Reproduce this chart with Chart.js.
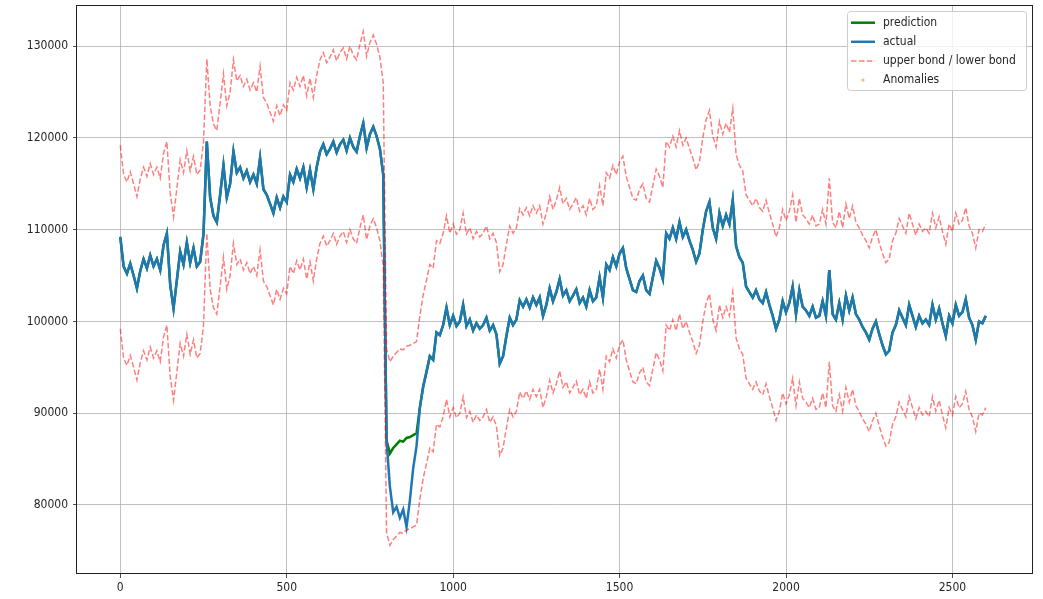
<!DOCTYPE html>
<html>
<head>
<meta charset="utf-8">
<script src="https://cdn.jsdelivr.net/npm/chart.js@4.4.1/dist/chart.umd.min.js"></script>
<style>
  html, body { margin: 0; padding: 0; background: #ffffff; }
  #wrap { width: 1043px; height: 599px; position: relative; }
</style>
</head>
<body>
<div id="wrap"><canvas id="chart" width="1043" height="599"></canvas></div>
<script>
// Every 10th observation of the series; values are in thousands.
const STEP = 10;
const UNIT = 1000;

const actual = [
  109.2,106.0,105.2,106.3,105.0,103.6,105.5,106.8,105.8,107.2,
  106.0,106.8,105.6,108.3,109.6,104.0,101.4,104.5,107.6,106.2,
  108.6,106.4,108.0,106.0,106.5,109.5,119.6,113.5,111.5,110.8,
  113.8,117.0,113.5,115.0,118.5,116.2,116.8,115.6,116.4,115.2,
  116.0,115.0,117.8,114.4,113.8,112.8,111.8,113.5,112.4,113.6,
  113.0,116.0,115.2,116.6,115.6,116.8,114.6,116.5,114.4,116.8,
  118.5,119.3,118.2,118.8,119.6,118.4,119.3,119.8,118.6,120.0,
  119.0,118.5,120.2,121.6,118.9,120.4,121.2,120.2,118.8,116.0,
  87.0,82.0,79.2,79.8,78.6,79.5,77.6,80.5,84.0,86.4,
  90.6,92.9,94.5,96.2,95.8,98.8,98.5,99.6,101.5,99.6,
  100.6,99.5,100.0,101.8,99.5,100.2,99.0,99.8,99.2,99.6,
  100.4,99.0,99.6,98.6,95.4,96.2,98.4,100.4,99.6,100.2,
  102.3,101.6,102.4,101.5,102.6,101.8,102.6,100.6,101.8,103.6,
  102.2,103.2,104.6,102.8,103.4,102.2,102.8,103.5,102.0,102.6,
  101.6,103.4,102.2,102.6,104.8,102.6,106.2,105.6,107.0,106.0,
  107.4,108.0,105.8,104.6,103.4,103.2,104.4,105.0,103.4,103.0,
  104.8,106.6,105.8,104.6,109.6,109.0,110.2,109.0,110.8,109.2,
  110.0,108.8,107.8,106.5,107.4,110.0,112.0,113.0,110.2,109.0,
  111.8,110.4,111.6,110.6,113.2,108.2,107.0,106.4,103.8,103.2,
  102.6,103.4,102.4,102.0,103.2,101.8,100.6,99.2,100.2,102.2,
  101.0,102.0,103.8,100.8,103.4,101.6,101.2,100.6,101.6,100.4,
  100.6,102.2,100.6,105.6,100.8,100.2,102.0,100.2,102.8,101.2,
  102.6,100.8,100.2,99.4,98.8,98.0,99.2,100.0,98.6,97.4,
  96.4,96.8,98.8,99.6,101.2,100.4,99.6,101.8,100.6,99.4,
  100.6,99.8,100.2,99.6,101.8,100.2,101.4,99.8,98.4,100.6,
  99.8,101.8,100.6,101.0,102.4,100.4,99.6,98.0,100.0,99.8,
  100.6
];

const prediction = [
  109.2,106.0,105.2,106.3,105.0,103.6,105.5,106.8,105.8,107.2,
  106.0,106.8,105.6,108.3,109.6,104.0,101.4,104.5,107.6,106.2,
  108.6,106.4,108.0,106.0,106.5,109.5,119.6,113.5,111.5,110.8,
  113.8,117.0,113.5,115.0,118.5,116.2,116.8,115.6,116.4,115.2,
  116.0,115.0,117.8,114.4,113.8,112.8,111.8,113.5,112.4,113.6,
  113.0,116.0,115.2,116.6,115.6,116.8,114.6,116.5,114.4,116.8,
  118.5,119.3,118.2,118.8,119.6,118.4,119.3,119.8,118.6,120.0,
  119.0,118.5,120.2,121.6,118.9,120.4,121.2,120.2,118.8,116.0,
  87.0,85.6,86.2,86.6,87.0,86.9,87.3,87.4,87.6,87.8,
  90.6,92.9,94.5,96.2,95.8,98.8,98.5,99.6,101.5,99.6,
  100.6,99.5,100.0,101.8,99.5,100.2,99.0,99.8,99.2,99.6,
  100.4,99.0,99.6,98.6,95.4,96.2,98.4,100.4,99.6,100.2,
  102.3,101.6,102.4,101.5,102.6,101.8,102.6,100.6,101.8,103.6,
  102.2,103.2,104.6,102.8,103.4,102.2,102.8,103.5,102.0,102.6,
  101.6,103.4,102.2,102.6,104.8,102.6,106.2,105.6,107.0,106.0,
  107.4,108.0,105.8,104.6,103.4,103.2,104.4,105.0,103.4,103.0,
  104.8,106.6,105.8,104.6,109.6,109.0,110.2,109.0,110.8,109.2,
  110.0,108.8,107.8,106.5,107.4,110.0,112.0,113.0,110.2,109.0,
  111.8,110.4,111.6,110.6,113.2,108.2,107.0,106.4,103.8,103.2,
  102.6,103.4,102.4,102.0,103.2,101.8,100.6,99.2,100.2,102.2,
  101.0,102.0,103.8,100.8,103.4,101.6,101.2,100.6,101.6,100.4,
  100.6,102.2,100.6,105.6,100.8,100.2,102.0,100.2,102.8,101.2,
  102.6,100.8,100.2,99.4,98.8,98.0,99.2,100.0,98.6,97.4,
  96.4,96.8,98.8,99.6,101.2,100.4,99.6,101.8,100.6,99.4,
  100.6,99.8,100.2,99.6,101.8,100.2,101.4,99.8,98.4,100.6,
  99.8,101.8,100.6,101.0,102.4,100.4,99.6,98.0,100.0,99.8,
  100.6
];

const upperBond = [
  119.2,116.0,115.2,116.3,115.0,113.6,115.5,116.8,115.8,117.2,
  116.0,116.8,115.6,118.3,119.6,114.0,111.4,114.5,117.6,116.2,
  118.6,116.4,118.0,116.0,116.5,119.5,128.6,123.5,121.5,120.8,
  123.8,127.0,123.5,125.0,128.5,126.2,126.8,125.6,126.4,125.2,
  126.0,125.0,127.8,124.4,123.8,122.8,121.8,123.5,122.4,123.6,
  123.0,126.0,125.2,126.6,125.6,126.8,124.6,126.5,124.4,126.8,
  128.5,129.3,128.2,128.8,129.6,128.4,129.3,129.8,128.6,130.0,
  129.0,128.5,130.2,131.6,128.9,130.4,131.2,130.2,128.8,126.0,
  97.0,95.6,96.2,96.6,97.0,96.9,97.3,97.4,97.6,97.8,
  100.6,102.9,104.5,106.2,105.8,108.8,108.5,109.6,111.5,109.6,
  110.6,109.5,110.0,111.8,109.5,110.2,109.0,109.8,109.2,109.6,
  110.4,109.0,109.6,108.6,105.4,106.2,108.4,110.4,109.6,110.2,
  112.3,111.6,112.4,111.5,112.6,111.8,112.6,110.6,111.8,113.6,
  112.2,113.2,114.6,112.8,113.4,112.2,112.8,113.5,112.0,112.6,
  111.6,113.4,112.2,112.6,114.8,112.6,116.2,115.6,117.0,116.0,
  117.4,118.0,115.8,114.6,113.4,113.2,114.4,115.0,113.4,113.0,
  114.8,116.6,115.8,114.6,119.6,119.0,120.2,119.0,120.8,119.2,
  120.0,118.8,117.8,116.5,117.4,120.0,122.0,123.0,120.2,119.0,
  121.8,120.4,121.6,120.6,123.2,118.2,117.0,116.4,113.8,113.2,
  112.6,113.4,112.4,112.0,113.2,111.8,110.6,109.2,110.2,112.2,
  111.0,112.0,113.8,110.8,113.4,111.6,111.2,110.6,111.6,110.4,
  110.6,112.2,110.6,115.6,110.8,110.2,112.0,110.2,112.8,111.2,
  112.6,110.8,110.2,109.4,108.8,108.0,109.2,110.0,108.6,107.4,
  106.4,106.8,108.8,109.6,111.2,110.4,109.6,111.8,110.6,109.4,
  110.6,109.8,110.2,109.6,111.8,110.2,111.4,109.8,108.4,110.6,
  109.8,111.8,110.6,111.0,112.4,110.4,109.6,108.0,110.0,109.8,
  110.6
];

const lowerBond = [
  99.2,96.0,95.2,96.3,95.0,93.6,95.5,96.8,95.8,97.2,
  96.0,96.8,95.6,98.3,99.6,94.0,91.4,94.5,97.6,96.2,
  98.6,96.4,98.0,96.0,96.5,99.5,109.6,103.5,101.5,100.8,
  103.8,107.0,103.5,105.0,108.5,106.2,106.8,105.6,106.4,105.2,
  106.0,105.0,107.8,104.4,103.8,102.8,101.8,103.5,102.4,103.6,
  103.0,106.0,105.2,106.6,105.6,106.8,104.6,106.5,104.4,106.8,
  108.5,109.3,108.2,108.8,109.6,108.4,109.3,109.8,108.6,110.0,
  109.0,108.5,110.2,111.6,108.9,110.4,111.2,110.2,108.8,106.0,
  77.0,75.6,76.2,76.6,77.0,76.9,77.3,77.4,77.6,77.8,
  80.6,82.9,84.5,86.2,85.8,88.8,88.5,89.6,91.5,89.6,
  90.6,89.5,90.0,91.8,89.5,90.2,89.0,89.8,89.2,89.6,
  90.4,89.0,89.6,88.6,85.4,86.2,88.4,90.4,89.6,90.2,
  92.3,91.6,92.4,91.5,92.6,91.8,92.6,90.6,91.8,93.6,
  92.2,93.2,94.6,92.8,93.4,92.2,92.8,93.5,92.0,92.6,
  91.6,93.4,92.2,92.6,94.8,92.6,96.2,95.6,97.0,96.0,
  97.4,98.0,95.8,94.6,93.4,93.2,94.4,95.0,93.4,93.0,
  94.8,96.6,95.8,94.6,99.6,99.0,100.2,99.0,100.8,99.2,
  100.0,98.8,97.8,96.5,97.4,100.0,102.0,103.0,100.2,99.0,
  101.8,100.4,101.6,100.6,103.2,98.2,97.0,96.4,93.8,93.2,
  92.6,93.4,92.4,92.0,93.2,91.8,90.6,89.2,90.2,92.2,
  91.0,92.0,93.8,90.8,93.4,91.6,91.2,90.6,91.6,90.4,
  90.6,92.2,90.6,95.6,90.8,90.2,92.0,90.2,92.8,91.2,
  92.6,90.8,90.2,89.4,88.8,88.0,89.2,90.0,88.6,87.4,
  86.4,86.8,88.8,89.6,91.2,90.4,89.6,91.8,90.6,89.4,
  90.6,89.8,90.2,89.6,91.8,90.2,91.4,89.8,88.4,90.6,
  89.8,91.8,90.6,91.0,92.4,90.4,89.6,88.0,90.0,89.8,
  90.6
];

// No observation falls outside the band, so the anomaly series is empty.
const anomalies = [];

const xTickValues = [0, 500, 1000, 1500, 2000, 2500];
const yTickValues = [80000, 90000, 100000, 110000, 120000, 130000];

const FONT_FAMILY = "'DejaVu Sans Condensed', 'DejaVu Sans', sans-serif";
const TEXT_COLOR = '#262626';

const toPoints = arr => arr.map((v, i) => ({ x: i * STEP, y: v * UNIT }));

// Legend box drawn inside the plot area, top-right, matplotlib style.
const boxLegend = {
  id: 'boxLegend',
  afterDraw(chart) {
    const ctx = chart.ctx;
    const a = chart.chartArea;
    const w = 179, h = 79;
    const x0 = a.right - 6 - w, y0 = a.top + 6.5;
    ctx.save();
    ctx.beginPath();
    ctx.roundRect(x0 + 0.5, y0, w, h, 3);
    ctx.fillStyle = 'rgba(255,255,255,0.8)';
    ctx.fill();
    ctx.strokeStyle = '#cccccc';
    ctx.lineWidth = 1;
    ctx.stroke();
    ctx.font = '12px ' + FONT_FAMILY;
    ctx.textBaseline = 'middle';
    ctx.textAlign = 'left';
    const items = chart.data.datasets.filter(d => d.inLegend);
    items.forEach((d, i) => {
      const y = y0 + 11.2 + i * 19.1;
      if (d.type === 'scatter') {
        ctx.beginPath();
        ctx.fillStyle = d.backgroundColor;
        ctx.arc(x0 + 16, y, 1.5, 0, Math.PI * 2);
        ctx.fill();
      } else {
        ctx.beginPath();
        ctx.setLineDash(d.borderDash || []);
        ctx.strokeStyle = d.borderColor;
        ctx.lineWidth = d.borderWidth;
        ctx.moveTo(x0 + 4, y);
        ctx.lineTo(x0 + 28, y);
        ctx.stroke();
        ctx.setLineDash([]);
      }
      ctx.fillStyle = TEXT_COLOR;
      ctx.fillText(d.label, x0 + 36, y);
    });
    ctx.restore();
  }
};

// Four-sided frame around the plot area.
const frame = {
  id: 'frame',
  afterDatasetsDraw(chart) {
    const a = chart.chartArea;
    const ctx = chart.ctx;
    ctx.save();
    ctx.strokeStyle = '#222222';
    ctx.lineWidth = 1;
    ctx.strokeRect(Math.round(a.left) - 0.5, Math.round(a.top) + 0.5,
                   Math.round(a.right - a.left) + 1, Math.round(a.bottom - a.top) - 1);
    ctx.restore();
  }
};

const tickFont = { family: FONT_FAMILY, size: 12 };

new Chart(document.getElementById('chart'), {
  type: 'line',
  data: {
    datasets: [
      { label: 'prediction', data: toPoints(prediction), borderColor: '#008000',
        borderWidth: 2.5, pointRadius: 0, order: 5, inLegend: true },
      { label: 'actual', data: toPoints(actual), borderColor: '#1f77b4',
        borderWidth: 2.5, pointRadius: 0, order: 4, inLegend: true },
      { label: 'upper bond / lower bond', data: toPoints(upperBond),
        borderColor: 'rgba(255,0,0,0.5)', borderWidth: 1.5, borderDash: [5.5, 2.4],
        pointRadius: 0, order: 3, inLegend: true },
      { label: 'lower bond', data: toPoints(lowerBond),
        borderColor: 'rgba(255,0,0,0.5)', borderWidth: 1.5, borderDash: [5.5, 2.4],
        pointRadius: 0, order: 2, inLegend: false },
      { type: 'scatter', label: 'Anomalies', data: anomalies,
        backgroundColor: 'rgba(255,127,14,0.6)', borderWidth: 0, pointRadius: 1.5,
        order: 1, inLegend: true }
    ]
  },
  options: {
    responsive: false,
    animation: false,
    devicePixelRatio: 1,
    layout: { padding: { left: 0, right: 11, top: 5, bottom: 0 } },
    plugins: { legend: { display: false }, tooltip: { enabled: false } },
    elements: { line: { tension: 0 } },
    scales: {
      x: {
        type: 'linear', min: -130, max: 2739,
        afterBuildTicks: s => { s.ticks = xTickValues.map(v => ({ value: v })); },
        afterFit: s => { s.height = 25; s.paddingLeft = 0; s.paddingRight = 0; },
        grid: { color: '#b0b0b0', lineWidth: 0.8, tickColor: '#222222', tickLength: 4 },
        border: { display: false },
        ticks: { font: tickFont, color: TEXT_COLOR, padding: 3, maxRotation: 0,
                 callback: v => String(v) }
      },
      y: {
        type: 'linear', min: 72470, max: 134480,
        afterBuildTicks: s => { s.ticks = yTickValues.map(v => ({ value: v })); },
        afterFit: s => { s.width = 77; s.paddingTop = 0; s.paddingBottom = 0; },
        grid: { color: '#b0b0b0', lineWidth: 0.8, tickColor: '#222222', tickLength: 4 },
        border: { display: false },
        ticks: { font: tickFont, color: TEXT_COLOR, padding: 5,
                 callback: v => String(v) }
      }
    }
  },
  plugins: [frame, boxLegend]
});
</script>
</body>
</html>
